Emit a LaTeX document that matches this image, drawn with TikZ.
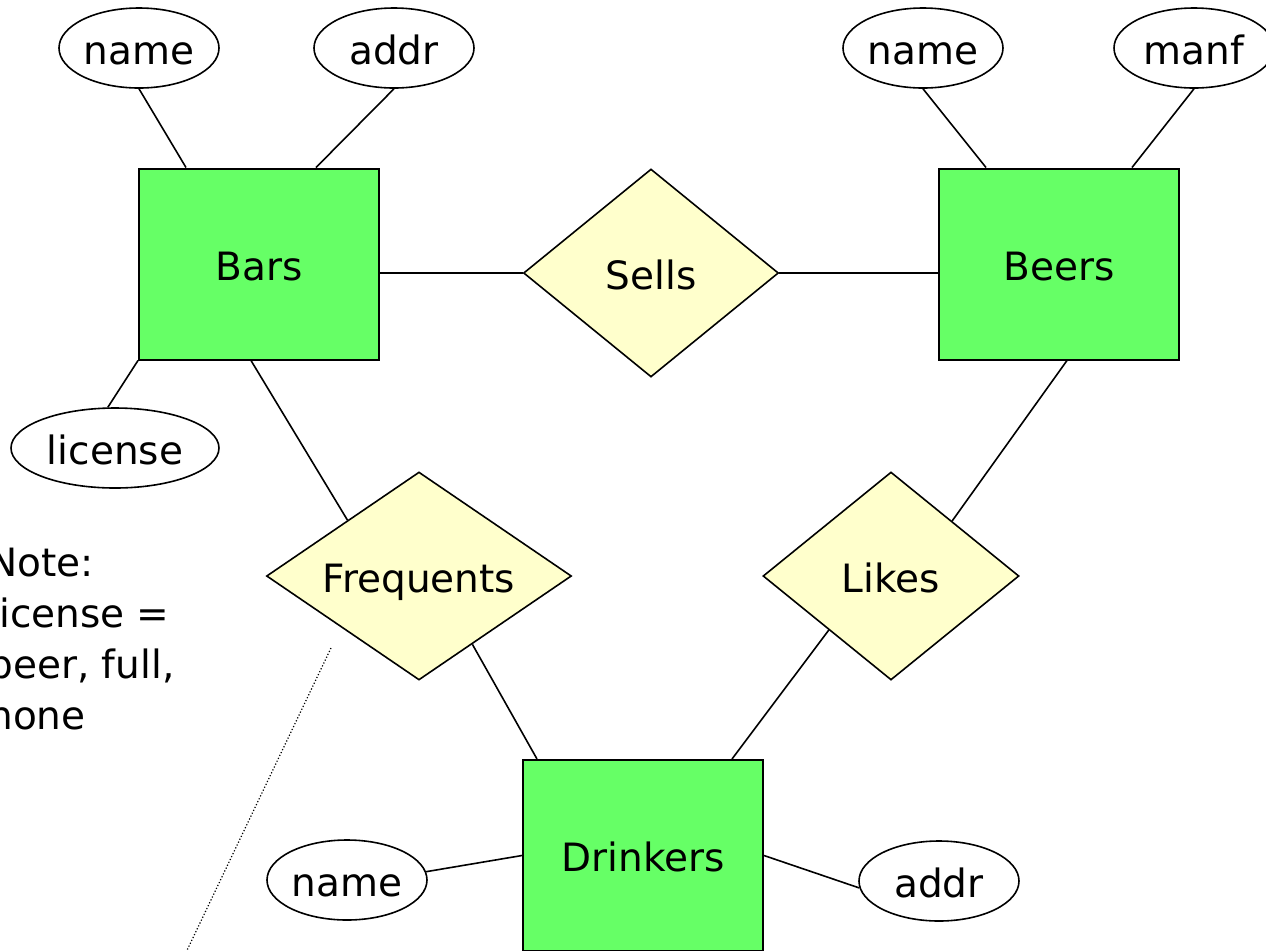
\documentclass[tikz,border=0pt]{standalone}
\usepackage{fontspec}
\setmainfont{DejaVu Sans}
\usetikzlibrary{shapes.geometric}
\definecolor{entgreen}{RGB}{102,255,102}
\definecolor{relyellow}{RGB}{255,255,204}

\begin{document}
\begin{tikzpicture}[x=0.5pt,y=-0.5pt,
  every node/.style={font=\fontsize{19.5}{25.5}\selectfont},
  entity/.style={rectangle,draw,line width=1pt,fill=entgreen,minimum width=120pt,minimum height=95.5pt,inner sep=0pt,text height=16pt,text depth=0pt},
  rel/.style={diamond,draw,line width=0.8pt,fill=relyellow,aspect=1.5,inner sep=0pt,minimum height=104pt,text height=16pt,text depth=0pt},
  attr/.style={ellipse,draw,line width=0.8pt,minimum width=80pt,minimum height=40pt,inner sep=0pt,text height=16pt,text depth=0pt},
  link/.style={line width=0.8pt}]
\useasboundingbox (0,0) rectangle (1266,950);

% entities
\node[entity] (bars) at (259,264) {Bars};
\node[entity] (beers) at (1059,264) {Beers};
\node[entity] (drinkers) at (643,855.5) {Drinkers};

% relationships
\node[rel,minimum width=127.5pt] (sells) at (651,273) {Sells};
\node[rel,minimum width=152.5pt] (frequents) at (419,576) {Frequents};
\node[rel,minimum width=128pt] (likes) at (891,576) {Likes};

% attributes
\node[attr] (barname) at (139,48) {name};
\node[attr] (baraddr) at (394,48) {addr};
\node[attr,minimum width=104pt] (license) at (115,448) {license};
\node[attr] (beername) at (923,48) {name};
\node[attr] (manf) at (1194,48) {manf};
\node[attr] (drkname) at (347,880) {name};
\node[attr] (drkaddr) at (939,881) {addr};

\draw[link] (barname.south) -- ([xshift=24pt]bars.north west);
\draw[link] (baraddr.south) -- ([xshift=-32pt]bars.north east);
\draw[link] (license.100) -- (bars.south west);
\draw[link] (sells.west -| bars.east) -- (sells.west);
\draw[link] (sells.east) -- (sells.east -| beers.west);
\draw[link] (beername.south) -- ([xshift=24pt]beers.north west);
\draw[link] (manf.south) -- ([xshift=-24pt]beers.north east);
\draw[link] ([xshift=-4pt]bars.south) -- (frequents.142);
\draw[link] ([xshift=4pt]beers.south) -- (likes.42);
\draw[link] (frequents.308) -- ([xshift=7.5pt]drinkers.north west);
\draw[link] (likes.221) -- ([xshift=-16pt]drinkers.north east);
\draw[link] (drkname.6) -- (drinkers.west);
\draw[link] (drinkers.east) -- (drkaddr.185);

% note on license values
\node[anchor=north west,align=left,inner sep=0pt] (note) at (-12,548) {Note:\\license =\\beer, full,\\none};
\coordinate (dotA) at (331,648);
\coordinate (dotB) at (180,965);
\draw[densely dotted,line width=0.6pt] (dotA) -- (dotB);
\end{tikzpicture}
\end{document}
